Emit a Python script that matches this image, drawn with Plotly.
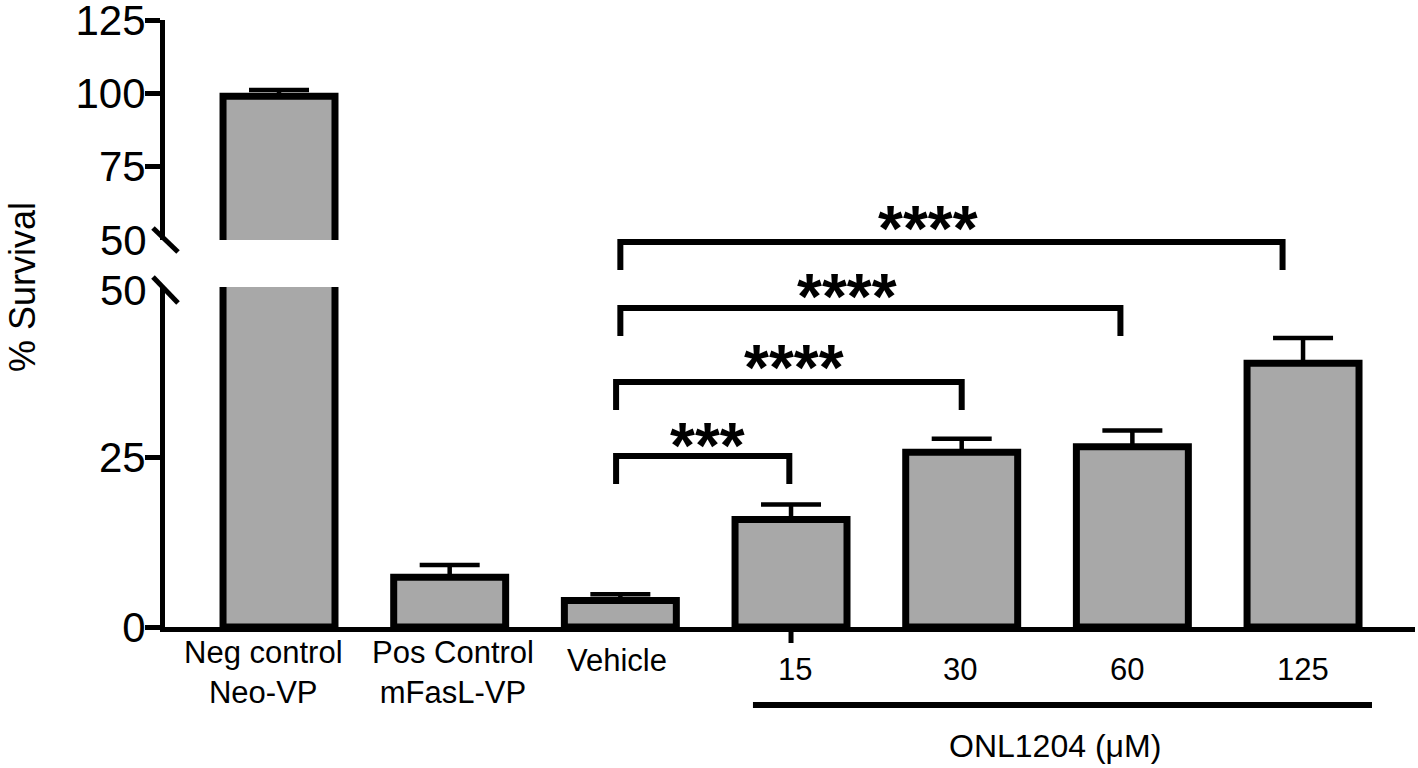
import plotly.graph_objects as go

# ---------------- data ----------------
categories = ["Neg control<br>Neo-VP", "Pos Control<br>mFasL-VP", "Vehicle", "15", "30", "60", "125"]
survival = [99.0, 7.3, 3.9, 15.8, 25.7, 26.5, 38.8]
sem = [2.1, 1.8, 0.9, 2.2, 2.0, 2.4, 3.7]
lower_ticks = [0, 25]
upper_ticks = [75, 100, 125]
break_labels = ["50", "50"]
y_title = "% Survival"
group_title = "ONL1204 (\u03bcM)"
# comparisons: (label, left x, right x)
comparisons = [("***", 1.975, 2.99), ("****", 1.975, 4.0), ("****", 2.0, 4.93), ("****", 2.0, 5.88)]

# ---------------- layout geometry (pixels) ----------------
W, H = 1418, 768
ML, MR, MT, MB = 165, 3, 20, 141
PW, PH = W - ML - MR, H - MT - MB
X0 = 627  # pixel y of plot bottom


def py(px):
    return (H - MB - px) / PH


def pxx(px):
    return (px - ML) / PW


FONT = "Liberation Sans, Arial, Helvetica, sans-serif"
NARROW = "Liberation Sans Narrow, Arial Narrow, Liberation Sans, sans-serif"
BAR_FILL = "#a8a8a8"
x_idx = list(range(len(categories)))
xrange_ = [-0.668, 6.656]

fig = go.Figure()
for xa, ya in (("x", "y"), ("x2", "y2")):
    fig.add_trace(go.Bar(
        x=x_idx, y=survival, xaxis=xa, yaxis=ya,
        marker=dict(color=BAR_FILL, line=dict(color="black", width=7)),
        error_y=dict(type="data", symmetric=False, array=sem, arrayminus=[0] * len(sem),
                     color="black", thickness=4.5, width=30),
        showlegend=False, hoverinfo="skip",
    ))

lower_top = (X0 - 287) / PH
upper_bot = (X0 - 240) / PH

common_y = dict(showgrid=False, zeroline=False, showline=True, linecolor="black", linewidth=5,
                ticks="outside", ticklen=15, tickwidth=5, tickcolor="black",
                tickfont=dict(size=42, family=FONT), automargin=False, ticklabeloverflow="allow",
                ticklabelstandoff=-9)

fig.update_layout(
    width=W, height=H,
    margin=dict(l=ML, r=MR, t=MT, b=MB, pad=0, autoexpand=False),
    plot_bgcolor="white", paper_bgcolor="white",
    bargap=0.344,
    font=dict(family=FONT, color="black"),
    xaxis=dict(range=xrange_, showgrid=False, zeroline=False, showline=True, linecolor="black",
               linewidth=5, showticklabels=False, ticks="", anchor="y", domain=[0, 1], automargin=False),
    xaxis2=dict(range=xrange_, showgrid=False, zeroline=False, showline=False, showticklabels=False,
                ticks="", anchor="y2", matches="x", domain=[0, 1], automargin=False),
    yaxis=dict(range=[0, 50], domain=[0, lower_top], tickvals=lower_ticks, anchor="x", **common_y),
    yaxis2=dict(range=[50, 125], domain=[upper_bot, 1], tickvals=upper_ticks, anchor="x2", **common_y),
)

shapes = []
annotations = []

# axis break slashes and their "50" labels
for (y1, y2, ylab), lab in zip([(228, 252, 240), (277, 303, 290)], break_labels):
    shapes.append(dict(type="line", xref="paper", yref="paper", x0=pxx(153), x1=pxx(178),
                       y0=py(y1), y1=py(y2), line=dict(color="black", width=5)))
    annotations.append(dict(text=lab, xref="paper", yref="paper", x=pxx(149), y=py(ylab),
                            xanchor="right", yanchor="middle", showarrow=False,
                            font=dict(size=42, family=FONT)))

# x category labels
label_y = [672, 672, 660, 670, 670, 670, 670]
label_dx = [-16, 3, -3, 4, -2, -5, 0]
for i, (lab, ly, dx) in enumerate(zip(categories, label_y, label_dx)):
    annotations.append(dict(text=lab, xref="x", yref="paper", x=i, y=py(ly), xshift=dx,
                            xanchor="center", yanchor="middle", showarrow=False,
                            font=dict(size=31, family=FONT)))

# tick under "15"
shapes.append(dict(type="line", xref="x", yref="paper", x0=3, x1=3, y0=py(627), y1=py(643),
                   line=dict(color="black", width=5)))

# group line + title
shapes.append(dict(type="line", xref="x", yref="paper", x0=2.777, x1=6.404, y0=py(705), y1=py(705),
                   line=dict(color="black", width=6)))
annotations.append(dict(text=group_title, xref="paper", yref="paper", x=pxx(1055), y=py(746),
                        xanchor="center", yanchor="middle", showarrow=False,
                        font=dict(size=32, family=FONT)))

# y title
annotations.append(dict(text=y_title, xref="paper", yref="paper", x=pxx(22), y=py(287),
                        xanchor="center", yanchor="middle", textangle=-90, showarrow=False,
                        font=dict(size=36, family=NARROW)))

# significance brackets
bracket_top = [456, 382, 308, 242]
star_x = [2.51, 3.02, 3.33, 3.80]
star_y = [435.5, 358, 287, 218.5]
drop = 28
for (lab, xl, xr), bt, sx, sy in zip(comparisons, bracket_top, star_x, star_y):
    shapes.append(dict(type="path", xref="x", yref="paper",
                       path=f"M {xl},{py(bt + drop)} L {xl},{py(bt)} L {xr},{py(bt)} L {xr},{py(bt + drop)}",
                       line=dict(color="black", width=6)))
    annotations.append(dict(text="<b>" + lab + "</b>", xref="x", yref="paper", x=sx, y=py(sy + 10),
                            xanchor="center", yanchor="middle", showarrow=False,
                            font=dict(size=64, family=FONT)))

fig.update_layout(shapes=shapes, annotations=annotations)
fig.write_html("out.html", config={"displayModeBar": False},
               post_script="document.body.style.margin='0';document.body.style.overflow='hidden';")
